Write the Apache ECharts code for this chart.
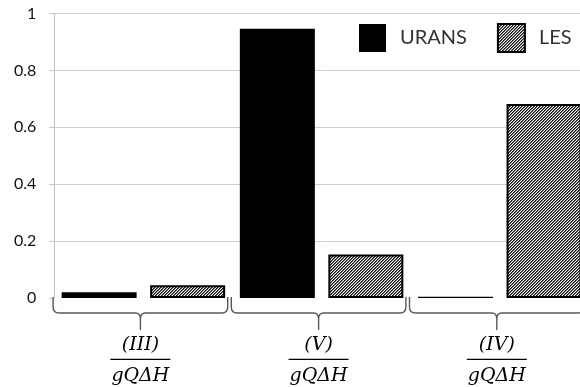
<!DOCTYPE html>
<html>
<head>
<meta charset="utf-8">
<script src="https://cdn.jsdelivr.net/npm/echarts@6/dist/echarts.min.js"></script>
<style>
html,body{margin:0;padding:0;background:#fff;overflow:hidden;width:580px;height:387px;}
#chart{width:592px;height:387px;}
</style>
</head>
<body>
<div id="chart"></div>
<script>
// ---- data ----
const categories = ["(III)", "(V)", "(IV)"];
const denominator = "gQΔH";
const uransValues = [0.02, 0.946, 0.004];
const lesValues = [0.045, 0.153, 0.682];
const yTicks = [0, 0.2, 0.4, 0.6, 0.8, 1];

// ---- hatch pattern for LES ----
function makeHatch() {
  const c = document.createElement('canvas');
  c.width = 3; c.height = 3;
  const ctx = c.getContext('2d');
  ctx.fillStyle = '#fff';
  ctx.fillRect(0, 0, 3, 3);
  for (let x = 0; x < 3; x++) {
    for (let y = 0; y < 3; y++) {
      const k = (x + y) % 3;
      if (k === 0) { ctx.fillStyle = '#111'; ctx.fillRect(x, y, 1, 1); }
      else if (k === 1) { ctx.fillStyle = '#666'; ctx.fillRect(x, y, 1, 1); }
    }
  }
  return c;
}
const hatch = { image: makeHatch(), repeat: 'repeat' };

const chart = echarts.init(document.getElementById('chart'), null, { renderer: 'canvas' });

function renderBrace(params, api) {
  const idx = api.value(0);
  const p = api.coord([idx, 0]);
  const w = api.size([1, 0])[0];
  const C = p[0] - 3;
  const T = p[1] - 1;
  const hw = w * 0.49;
  const L = C - hw, R = C + hw;
  const path =
    'M' + L + ' ' + T + ' L' + L + ' ' + (T + 10) +
    ' Q' + L + ' ' + (T + 16) + ' ' + (L + 6) + ' ' + (T + 16) +
    ' L' + (C - 5) + ' ' + (T + 16) +
    ' Q' + C + ' ' + (T + 16) + ' ' + C + ' ' + (T + 22) +
    ' L' + C + ' ' + (T + 33) +
    ' M' + C + ' ' + (T + 22) +
    ' Q' + C + ' ' + (T + 16) + ' ' + (C + 5) + ' ' + (T + 16) +
    ' L' + (R - 6) + ' ' + (T + 16) +
    ' Q' + R + ' ' + (T + 16) + ' ' + R + ' ' + (T + 10) +
    ' L' + R + ' ' + T;
  return {
    type: 'group',
    children: [
      { type: 'path', shape: { pathData: path }, style: { stroke: '#595959', fill: null, lineWidth: 1.4 } },
      { type: 'text', style: { text: categories[idx], x: C, y: T + 48.5, align: 'center', verticalAlign: 'middle', font: 'italic 19px "DejaVu Serif"', fill: '#000' } },
      { type: 'line', shape: { x1: C - 30, y1: T + 62.3, x2: C + 30, y2: T + 62.3 }, style: { stroke: '#000', lineWidth: 1.2 } },
      { type: 'text', style: { text: denominator, x: C, y: T + 79, align: 'center', verticalAlign: 'middle', font: 'italic 19px "DejaVu Serif"', fill: '#000' } }
    ]
  };
}

const option = {
  animation: false,
  backgroundColor: '#fff',
  grid: { left: 54.3, top: 13.5, width: 534.6, height: 284.5 },
  legend: {
    left: 359, top: 23, padding: 0,
    itemWidth: 27, itemHeight: 28, itemGap: 30,
    icon: 'rect',
    data: ['URANS', 'LES'],
    textStyle: { fontFamily: 'Lato', fontSize: 20, color: '#333', padding: [0, 0, 0, 9] }
  },
  xAxis: {
    type: 'category',
    data: categories,
    axisLine: { show: false },
    axisTick: { show: false },
    axisLabel: { show: false },
    splitLine: { show: false }
  },
  yAxis: {
    type: 'value',
    min: 0, max: 1, interval: 0.2,
    axisLine: { show: true, lineStyle: { color: '#c4c4c4', width: 1 } },
    axisTick: { show: true, length: 5, lineStyle: { color: '#c4c4c4' } },
    axisLabel: {
      fontFamily: 'Lato', fontSize: 16, color: '#111', margin: 18,
      formatter: function (v) { return yTicks.indexOf(v) >= 0 ? String(v) : ''; }
    },
    splitLine: { show: true, showMinLine: false, lineStyle: { color: '#d0d0d0', width: 1 } }
  },
  series: [
    {
      name: 'URANS', type: 'bar', data: uransValues,
      barWidth: 75, barGap: '18%',
      itemStyle: { color: '#000' }
    },
    {
      name: 'LES', type: 'bar', data: lesValues,
      barWidth: 75,
      itemStyle: { color: hatch, borderColor: '#000', borderWidth: 2 }
    },
    {
      name: 'braces', type: 'custom',
      data: categories.map(function (c, i) { return [i, 0]; }),
      renderItem: renderBrace,
      clip: false, silent: true, z: 5
    }
  ]
};
chart.setOption(option);
</script>
</body>
</html>
